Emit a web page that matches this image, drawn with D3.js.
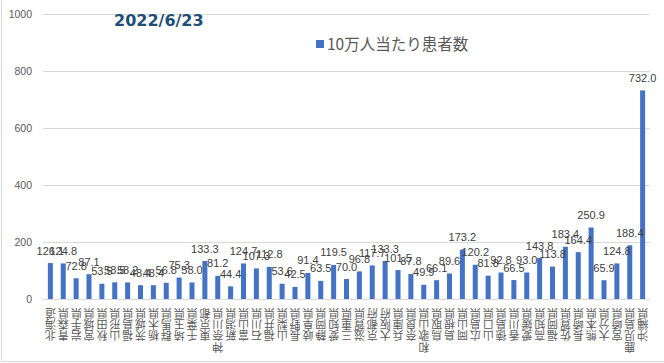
<!DOCTYPE html>
<html><head><meta charset="utf-8">
<script src="https://cdn.jsdelivr.net/npm/d3@7"></script>
<style>body{margin:0;background:#fff}svg{display:block}</style>
</head><body>
<svg id="c" width="664" height="363"></svg>
<script>
const prefectures = ["北海道","青森県","岩手県","宮城県","秋田県","山形県","福島県","茨城県","栃木県","群馬県","埼玉県","千葉県","東京都","神奈川県","新潟県","富山県","石川県","福井県","山梨県","長野県","岐阜県","静岡県","愛知県","三重県","滋賀県","京都府","大阪府","兵庫県","奈良県","和歌山県","鳥取県","島根県","岡山県","広島県","山口県","徳島県","香川県","愛媛県","高知県","福岡県","佐賀県","長崎県","熊本県","大分県","宮崎県","鹿児島県","沖縄県"];
const values = [126.1,124.8,72.8,87.1,53.5,58.5,58.2,48.4,48.4,56.8,75.3,58.0,133.3,81.2,44.4,124.7,107.3,112.8,53.6,42.5,91.4,63.5,119.5,70.0,96.8,117.7,133.3,101.5,87.8,49.9,66.1,89.6,173.2,120.2,81.8,92.8,66.5,93.0,143.8,113.8,183.4,164.4,250.9,65.9,124.8,188.4,732.0];
const yTicks = [0,200,400,600,800,1000];
const seriesName = "10万人当たり患者数";
const title = "2022/6/23";

const svg = d3.select("#c");
const x = d3.scaleBand().domain(prefectures).range([44, 649]).paddingInner(0.61).paddingOuter(0.3);
const y = d3.scaleLinear().domain([0, 1000]).range([299, 14]);

// frame
svg.append("line").attr("x1",1.5).attr("x2",1.5).attr("y1",0).attr("y2",362).attr("stroke","#d9d9d9");
svg.append("line").attr("x1",1).attr("x2",664).attr("y1",361.5).attr("y2",361.5).attr("stroke","#d9d9d9");

// grid
svg.append("g").selectAll("line").data(yTicks).join("line")
  .attr("x1",43).attr("x2",650)
  .attr("y1",d=>Math.round(y(d))+0.5).attr("y2",d=>Math.round(y(d))+0.5)
  .attr("stroke","#d9d9d9").attr("stroke-width",1);

// y axis labels
const yAxis = d3.axisLeft(y).tickValues(yTicks).tickFormat(d3.format("d")).tickSize(0).tickPadding(0);
const ya = svg.append("g").attr("transform","translate(32,0)").call(yAxis);
ya.select(".domain").remove();
ya.selectAll("text").attr("fill","#595959").attr("font-size","10.5px").attr("font-family","Liberation Sans, Arial, sans-serif");

// bars
svg.append("g").selectAll("rect").data(values).join("rect")
  .attr("x",(d,i)=>x(prefectures[i]))
  .attr("width",x.bandwidth())
  .attr("y",d=>y(d))
  .attr("height",d=>y(0)-y(d))
  .attr("fill","#4472c4");

// value labels
svg.append("g").selectAll("text").data(values).join("text")
  .attr("x",(d,i)=>x(prefectures[i])+x.bandwidth()/2)
  .attr("y",d=>y(d)-8.5)
  .attr("text-anchor","middle")
  .attr("font-family","Liberation Sans, Arial, sans-serif")
  .attr("font-size","11px")
  .attr("fill","#404040")
  .text(d=>d.toFixed(1));

// x labels: stacked chars, rotated 180
const xl = svg.append("g");
prefectures.forEach(p=>{
  const cx = x(p)+x.bandwidth()/2;
  const chars = Array.from(p).reverse();
  chars.forEach((ch,i)=>{
    const cy = 313.5 + i*11.4;
    xl.append("text")
      .attr("x",cx).attr("y",cy)
      .attr("text-anchor","middle")
      .attr("dominant-baseline","central")
      .attr("font-family","Noto Sans CJK JP, sans-serif")
      .attr("font-size","11px")
      .attr("fill","#595959")
      .attr("transform",`rotate(180,${cx},${cy})`)
      .text(ch);
  });
});

// title
svg.append("text").attr("x",114).attr("y",26)
  .attr("font-family","DejaVu Sans, sans-serif").attr("font-weight","bold")
  .attr("font-size","16px").attr("fill","#1f4e79").text(title);

// legend
svg.append("rect").attr("x",316).attr("y",40).attr("width",8).attr("height",8).attr("fill","#4472c4");
svg.append("text").attr("x",327).attr("y",49.5)
  .attr("font-family","Noto Sans CJK JP, sans-serif").attr("font-size","15.5px")
  .attr("fill","#595959").text(seriesName);
</script>
</body></html>
